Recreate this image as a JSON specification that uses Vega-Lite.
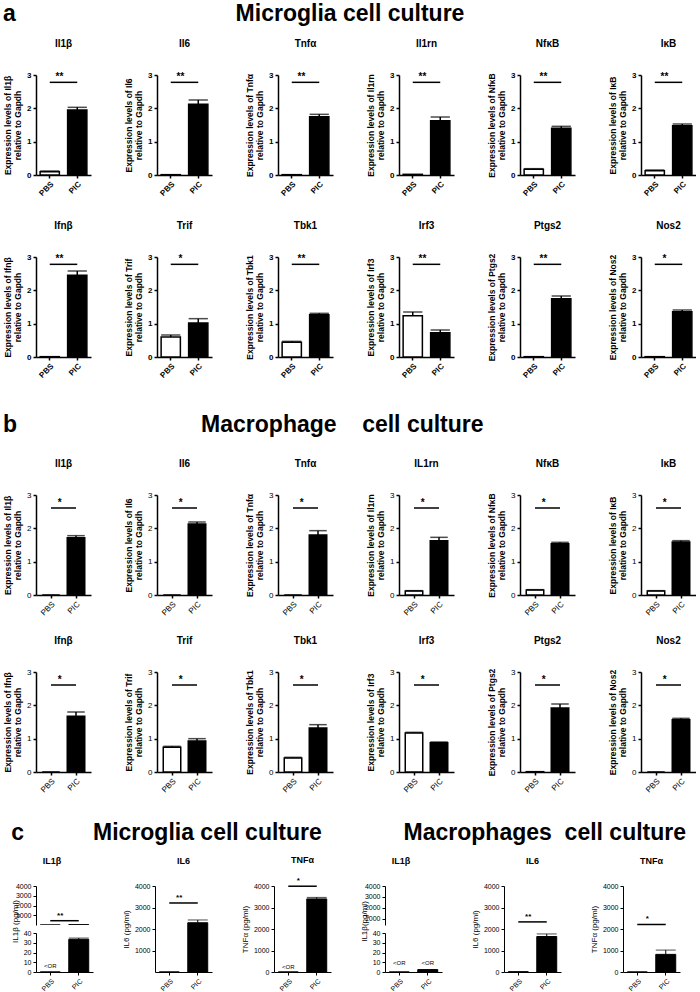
{
"$schema":"https://vega.github.io/schema/vega-lite/v6.json",
"padding":{"left":3,"top":3,"right":0,"bottom":0},
"config":{
 "font":"Liberation Sans",
 "view":{"stroke":null},
 "axis":{"grid":false,"labelOverlap":false,"domainColor":"black","domainWidth":1.5,"tickColor":"black","tickWidth":1.5,"tickSize":3,"labelColor":"black","labelFontSize":8,"labelFontWeight":"bold","labelPadding":2,"titleColor":"black","titleFontSize":8.5,"titleFontWeight":"bold","titlePadding":4},
 "axisX":{"labelAngle":-45},
 "title":{"fontSize":10,"fontWeight":"bold","color":"black","offset":22},
 "bar":{"stroke":"black","strokeWidth":1.5},
 "rule":{"color":"black","strokeWidth":1.5},
 "tick":{"color":"black","thickness":1.5,"bandSize":11},
 "text":{"fontWeight":"bold","fontSize":10,"color":"black"}
},
"spacing":34,
"vconcat":[
{"title":{"text":"a\u2003\u2003\u2003\u2003\u2003\u2003\u2003\u2003\u2003\u00a0\u00a0Microglia cell culture","fontSize":23,"anchor":"start","frame":"bounds","offset":13},
 "spacing":23,
 "vconcat":[
 {"bounds":"flush","spacing":66,"hconcat":[
  {"title":"Il1β","width":55,"height":100,"data":{"values":[{"g":"PBS","v":0.1,"hi":0.12},{"g":"PIC","v":1.95,"hi":2.03}]},"encoding":{"x":{"field":"g","type":"nominal","title":null,"scale":{"domain":["PBS","PIC"],"paddingInner":0.3,"paddingOuter":0.15}}},"layer":[{"mark":"bar","encoding":{"y":{"field":"v","type":"quantitative","scale":{"domain":[0,3]},"axis":{"values":[0,1,2,3],"format":"d","tickCount":10,"labelOverlap":false,"title":["Expression levels of Il1β","relative to Gapdh"]}},"fill":{"field":"g","type":"nominal","scale":{"domain":["PBS","PIC"],"range":["white","black"]},"legend":null}}},{"mark":"rule","encoding":{"y":{"field":"hi","type":"quantitative"},"y2":{"field":"v"}}},{"mark":"tick","encoding":{"y":{"field":"hi","type":"quantitative"}}},{"data":{"values":[{}]},"mark":"rule","encoding":{"x":{"datum":"PBS"},"x2":{"datum":"PIC"},"y":{"datum":2.78}}},{"data":{"values":[{}]},"mark":{"type":"text","dy":-5},"encoding":{"x":{"datum":"PBS","bandPosition":1},"y":{"datum":2.78},"text":{"value":"**"}}}]},
  {"title":"Il6","width":55,"height":100,"data":{"values":[{"g":"PBS","v":0.01},{"g":"PIC","v":2.12,"hi":2.25}]},"encoding":{"x":{"field":"g","type":"nominal","title":null,"scale":{"domain":["PBS","PIC"],"paddingInner":0.3,"paddingOuter":0.15}}},"layer":[{"mark":"bar","encoding":{"y":{"field":"v","type":"quantitative","scale":{"domain":[0,3]},"axis":{"values":[0,1,2,3],"format":"d","tickCount":10,"labelOverlap":false,"title":["Expression levels of Il6","relative to Gapdh"]}},"fill":{"field":"g","type":"nominal","scale":{"domain":["PBS","PIC"],"range":["white","black"]},"legend":null}}},{"mark":"rule","encoding":{"y":{"field":"hi","type":"quantitative"},"y2":{"field":"v"}}},{"mark":"tick","encoding":{"y":{"field":"hi","type":"quantitative"}}},{"data":{"values":[{}]},"mark":"rule","encoding":{"x":{"datum":"PBS"},"x2":{"datum":"PIC"},"y":{"datum":2.78}}},{"data":{"values":[{}]},"mark":{"type":"text","dy":-5},"encoding":{"x":{"datum":"PBS","bandPosition":1},"y":{"datum":2.78},"text":{"value":"**"}}}]},
  {"title":"Tnfα","width":55,"height":100,"data":{"values":[{"g":"PBS","v":0.01},{"g":"PIC","v":1.75,"hi":1.82}]},"encoding":{"x":{"field":"g","type":"nominal","title":null,"scale":{"domain":["PBS","PIC"],"paddingInner":0.3,"paddingOuter":0.15}}},"layer":[{"mark":"bar","encoding":{"y":{"field":"v","type":"quantitative","scale":{"domain":[0,3]},"axis":{"values":[0,1,2,3],"format":"d","tickCount":10,"labelOverlap":false,"title":["Expression levels of Tnfα","relative to Gapdh"]}},"fill":{"field":"g","type":"nominal","scale":{"domain":["PBS","PIC"],"range":["white","black"]},"legend":null}}},{"mark":"rule","encoding":{"y":{"field":"hi","type":"quantitative"},"y2":{"field":"v"}}},{"mark":"tick","encoding":{"y":{"field":"hi","type":"quantitative"}}},{"data":{"values":[{}]},"mark":"rule","encoding":{"x":{"datum":"PBS"},"x2":{"datum":"PIC"},"y":{"datum":2.78}}},{"data":{"values":[{}]},"mark":{"type":"text","dy":-5},"encoding":{"x":{"datum":"PBS","bandPosition":1},"y":{"datum":2.78},"text":{"value":"**"}}}]},
  {"title":"Il1rn","width":55,"height":100,"data":{"values":[{"g":"PBS","v":0.02},{"g":"PIC","v":1.63,"hi":1.74}]},"encoding":{"x":{"field":"g","type":"nominal","title":null,"scale":{"domain":["PBS","PIC"],"paddingInner":0.3,"paddingOuter":0.15}}},"layer":[{"mark":"bar","encoding":{"y":{"field":"v","type":"quantitative","scale":{"domain":[0,3]},"axis":{"values":[0,1,2,3],"format":"d","tickCount":10,"labelOverlap":false,"title":["Expression levels of Il1rn","relative to Gapdh"]}},"fill":{"field":"g","type":"nominal","scale":{"domain":["PBS","PIC"],"range":["white","black"]},"legend":null}}},{"mark":"rule","encoding":{"y":{"field":"hi","type":"quantitative"},"y2":{"field":"v"}}},{"mark":"tick","encoding":{"y":{"field":"hi","type":"quantitative"}}},{"data":{"values":[{}]},"mark":"rule","encoding":{"x":{"datum":"PBS"},"x2":{"datum":"PIC"},"y":{"datum":2.78}}},{"data":{"values":[{}]},"mark":{"type":"text","dy":-5},"encoding":{"x":{"datum":"PBS","bandPosition":1},"y":{"datum":2.78},"text":{"value":"**"}}}]},
  {"title":"NfκB","width":55,"height":100,"data":{"values":[{"g":"PBS","v":0.17,"hi":0.19},{"g":"PIC","v":1.4,"hi":1.46}]},"encoding":{"x":{"field":"g","type":"nominal","title":null,"scale":{"domain":["PBS","PIC"],"paddingInner":0.3,"paddingOuter":0.15}}},"layer":[{"mark":"bar","encoding":{"y":{"field":"v","type":"quantitative","scale":{"domain":[0,3]},"axis":{"values":[0,1,2,3],"format":"d","tickCount":10,"labelOverlap":false,"title":["Expression levels of NfκB","relative to Gapdh"]}},"fill":{"field":"g","type":"nominal","scale":{"domain":["PBS","PIC"],"range":["white","black"]},"legend":null}}},{"mark":"rule","encoding":{"y":{"field":"hi","type":"quantitative"},"y2":{"field":"v"}}},{"mark":"tick","encoding":{"y":{"field":"hi","type":"quantitative"}}},{"data":{"values":[{}]},"mark":"rule","encoding":{"x":{"datum":"PBS"},"x2":{"datum":"PIC"},"y":{"datum":2.78}}},{"data":{"values":[{}]},"mark":{"type":"text","dy":-5},"encoding":{"x":{"datum":"PBS","bandPosition":1},"y":{"datum":2.78},"text":{"value":"**"}}}]},
  {"title":"IκB","width":55,"height":100,"data":{"values":[{"g":"PBS","v":0.13,"hi":0.15},{"g":"PIC","v":1.48,"hi":1.53}]},"encoding":{"x":{"field":"g","type":"nominal","title":null,"scale":{"domain":["PBS","PIC"],"paddingInner":0.3,"paddingOuter":0.15}}},"layer":[{"mark":"bar","encoding":{"y":{"field":"v","type":"quantitative","scale":{"domain":[0,3]},"axis":{"values":[0,1,2,3],"format":"d","tickCount":10,"labelOverlap":false,"title":["Expression levels of IκB","relative to Gapdh"]}},"fill":{"field":"g","type":"nominal","scale":{"domain":["PBS","PIC"],"range":["white","black"]},"legend":null}}},{"mark":"rule","encoding":{"y":{"field":"hi","type":"quantitative"},"y2":{"field":"v"}}},{"mark":"tick","encoding":{"y":{"field":"hi","type":"quantitative"}}},{"data":{"values":[{}]},"mark":"rule","encoding":{"x":{"datum":"PBS"},"x2":{"datum":"PIC"},"y":{"datum":2.78}}},{"data":{"values":[{}]},"mark":{"type":"text","dy":-5},"encoding":{"x":{"datum":"PBS","bandPosition":1},"y":{"datum":2.78},"text":{"value":"**"}}}]}
 ]},
 {"bounds":"flush","spacing":66,"hconcat":[
  {"title":"Ifnβ","width":55,"height":100,"data":{"values":[{"g":"PBS","v":0.01},{"g":"PIC","v":2.45,"hi":2.58}]},"encoding":{"x":{"field":"g","type":"nominal","title":null,"scale":{"domain":["PBS","PIC"],"paddingInner":0.3,"paddingOuter":0.15}}},"layer":[{"mark":"bar","encoding":{"y":{"field":"v","type":"quantitative","scale":{"domain":[0,3]},"axis":{"values":[0,1,2,3],"format":"d","tickCount":10,"labelOverlap":false,"title":["Expression levels of Ifnβ","relative to Gapdh"]}},"fill":{"field":"g","type":"nominal","scale":{"domain":["PBS","PIC"],"range":["white","black"]},"legend":null}}},{"mark":"rule","encoding":{"y":{"field":"hi","type":"quantitative"},"y2":{"field":"v"}}},{"mark":"tick","encoding":{"y":{"field":"hi","type":"quantitative"}}},{"data":{"values":[{}]},"mark":"rule","encoding":{"x":{"datum":"PBS"},"x2":{"datum":"PIC"},"y":{"datum":2.78}}},{"data":{"values":[{}]},"mark":{"type":"text","dy":-5},"encoding":{"x":{"datum":"PBS","bandPosition":1},"y":{"datum":2.78},"text":{"value":"**"}}}]},
  {"title":"Trif","width":55,"height":100,"data":{"values":[{"g":"PBS","v":0.6,"hi":0.66},{"g":"PIC","v":1.02,"hi":1.15}]},"encoding":{"x":{"field":"g","type":"nominal","title":null,"scale":{"domain":["PBS","PIC"],"paddingInner":0.3,"paddingOuter":0.15}}},"layer":[{"mark":"bar","encoding":{"y":{"field":"v","type":"quantitative","scale":{"domain":[0,3]},"axis":{"values":[0,1,2,3],"format":"d","tickCount":10,"labelOverlap":false,"title":["Expression levels of Trif","relative to Gapdh"]}},"fill":{"field":"g","type":"nominal","scale":{"domain":["PBS","PIC"],"range":["white","black"]},"legend":null}}},{"mark":"rule","encoding":{"y":{"field":"hi","type":"quantitative"},"y2":{"field":"v"}}},{"mark":"tick","encoding":{"y":{"field":"hi","type":"quantitative"}}},{"data":{"values":[{}]},"mark":"rule","encoding":{"x":{"datum":"PBS"},"x2":{"datum":"PIC"},"y":{"datum":2.78}}},{"data":{"values":[{}]},"mark":{"type":"text","dy":-5},"encoding":{"x":{"datum":"PBS","bandPosition":1},"y":{"datum":2.78},"text":{"value":"*"}}}]},
  {"title":"Tbk1","width":55,"height":100,"data":{"values":[{"g":"PBS","v":0.44,"hi":0.47},{"g":"PIC","v":1.27,"hi":1.31}]},"encoding":{"x":{"field":"g","type":"nominal","title":null,"scale":{"domain":["PBS","PIC"],"paddingInner":0.3,"paddingOuter":0.15}}},"layer":[{"mark":"bar","encoding":{"y":{"field":"v","type":"quantitative","scale":{"domain":[0,3]},"axis":{"values":[0,1,2,3],"format":"d","tickCount":10,"labelOverlap":false,"title":["Expression levels of Tbk1","relative to Gapdh"]}},"fill":{"field":"g","type":"nominal","scale":{"domain":["PBS","PIC"],"range":["white","black"]},"legend":null}}},{"mark":"rule","encoding":{"y":{"field":"hi","type":"quantitative"},"y2":{"field":"v"}}},{"mark":"tick","encoding":{"y":{"field":"hi","type":"quantitative"}}},{"data":{"values":[{}]},"mark":"rule","encoding":{"x":{"datum":"PBS"},"x2":{"datum":"PIC"},"y":{"datum":2.78}}},{"data":{"values":[{}]},"mark":{"type":"text","dy":-5},"encoding":{"x":{"datum":"PBS","bandPosition":1},"y":{"datum":2.78},"text":{"value":"**"}}}]},
  {"title":"Irf3","width":55,"height":100,"data":{"values":[{"g":"PBS","v":1.24,"hi":1.35},{"g":"PIC","v":0.73,"hi":0.81}]},"encoding":{"x":{"field":"g","type":"nominal","title":null,"scale":{"domain":["PBS","PIC"],"paddingInner":0.3,"paddingOuter":0.15}}},"layer":[{"mark":"bar","encoding":{"y":{"field":"v","type":"quantitative","scale":{"domain":[0,3]},"axis":{"values":[0,1,2,3],"format":"d","tickCount":10,"labelOverlap":false,"title":["Expression levels of Irf3","relative to Gapdh"]}},"fill":{"field":"g","type":"nominal","scale":{"domain":["PBS","PIC"],"range":["white","black"]},"legend":null}}},{"mark":"rule","encoding":{"y":{"field":"hi","type":"quantitative"},"y2":{"field":"v"}}},{"mark":"tick","encoding":{"y":{"field":"hi","type":"quantitative"}}},{"data":{"values":[{}]},"mark":"rule","encoding":{"x":{"datum":"PBS"},"x2":{"datum":"PIC"},"y":{"datum":2.78}}},{"data":{"values":[{}]},"mark":{"type":"text","dy":-5},"encoding":{"x":{"datum":"PBS","bandPosition":1},"y":{"datum":2.78},"text":{"value":"**"}}}]},
  {"title":"Ptgs2","width":55,"height":100,"data":{"values":[{"g":"PBS","v":0.01},{"g":"PIC","v":1.75,"hi":1.83}]},"encoding":{"x":{"field":"g","type":"nominal","title":null,"scale":{"domain":["PBS","PIC"],"paddingInner":0.3,"paddingOuter":0.15}}},"layer":[{"mark":"bar","encoding":{"y":{"field":"v","type":"quantitative","scale":{"domain":[0,3]},"axis":{"values":[0,1,2,3],"format":"d","tickCount":10,"labelOverlap":false,"title":["Expression levels of Ptgs2","relative to Gapdh"]}},"fill":{"field":"g","type":"nominal","scale":{"domain":["PBS","PIC"],"range":["white","black"]},"legend":null}}},{"mark":"rule","encoding":{"y":{"field":"hi","type":"quantitative"},"y2":{"field":"v"}}},{"mark":"tick","encoding":{"y":{"field":"hi","type":"quantitative"}}},{"data":{"values":[{}]},"mark":"rule","encoding":{"x":{"datum":"PBS"},"x2":{"datum":"PIC"},"y":{"datum":2.78}}},{"data":{"values":[{}]},"mark":{"type":"text","dy":-5},"encoding":{"x":{"datum":"PBS","bandPosition":1},"y":{"datum":2.78},"text":{"value":"**"}}}]},
  {"title":"Nos2","width":55,"height":100,"data":{"values":[{"g":"PBS","v":0.01},{"g":"PIC","v":1.36,"hi":1.41}]},"encoding":{"x":{"field":"g","type":"nominal","title":null,"scale":{"domain":["PBS","PIC"],"paddingInner":0.3,"paddingOuter":0.15}}},"layer":[{"mark":"bar","encoding":{"y":{"field":"v","type":"quantitative","scale":{"domain":[0,3]},"axis":{"values":[0,1,2,3],"format":"d","tickCount":10,"labelOverlap":false,"title":["Expression levels of Nos2","relative to Gapdh"]}},"fill":{"field":"g","type":"nominal","scale":{"domain":["PBS","PIC"],"range":["white","black"]},"legend":null}}},{"mark":"rule","encoding":{"y":{"field":"hi","type":"quantitative"},"y2":{"field":"v"}}},{"mark":"tick","encoding":{"y":{"field":"hi","type":"quantitative"}}},{"data":{"values":[{}]},"mark":"rule","encoding":{"x":{"datum":"PBS"},"x2":{"datum":"PIC"},"y":{"datum":2.78}}},{"data":{"values":[{}]},"mark":{"type":"text","dy":-5},"encoding":{"x":{"datum":"PBS","bandPosition":1},"y":{"datum":2.78},"text":{"value":"*"}}}]}
 ]}
 ]},
{"spacing":28,"vconcat":[
{"title":{"text":"b\u2003\u2003\u2003\u2003\u2003\u2003\u2003\u2003Macrophage\u00a0\u00a0\u00a0\u00a0cell culture","fontSize":23,"anchor":"start","frame":"bounds","offset":22},
 "spacing":19,
 "vconcat":[
 {"bounds":"flush","spacing":66,"hconcat":[
  {"title":"Il1β","width":55,"height":100,"data":{"values":[{"g":"PBS","v":0},{"g":"PIC","v":1.72,"hi":1.78}]},"encoding":{"x":{"field":"g","type":"nominal","title":null,"scale":{"domain":["PBS","PIC"],"paddingInner":0.3,"paddingOuter":0.25},"axis":{"labelFontWeight":"normal"}}},"layer":[{"mark":"bar","encoding":{"y":{"field":"v","type":"quantitative","scale":{"domain":[0,3]},"axis":{"values":[0,1,2,3],"format":"d","tickCount":10,"labelOverlap":false,"labelFontWeight":"normal","title":["Expression levels of Il1β","relative to Gapdh"]}},"fill":{"field":"g","type":"nominal","scale":{"domain":["PBS","PIC"],"range":["white","black"]},"legend":null}}},{"mark":"rule","encoding":{"y":{"field":"hi","type":"quantitative"},"y2":{"field":"v"}}},{"mark":"tick","encoding":{"y":{"field":"hi","type":"quantitative"}}},{"data":{"values":[{}]},"mark":"rule","encoding":{"x":{"datum":"PBS"},"x2":{"datum":"PIC"},"y":{"datum":2.61}}},{"data":{"values":[{}]},"mark":{"type":"text","dy":-5},"encoding":{"x":{"datum":"PBS","bandPosition":1},"y":{"datum":2.61},"text":{"value":"*"}}}]},
  {"title":"Il6","width":55,"height":100,"data":{"values":[{"g":"PBS","v":0},{"g":"PIC","v":2.13,"hi":2.19}]},"encoding":{"x":{"field":"g","type":"nominal","title":null,"scale":{"domain":["PBS","PIC"],"paddingInner":0.3,"paddingOuter":0.25},"axis":{"labelFontWeight":"normal"}}},"layer":[{"mark":"bar","encoding":{"y":{"field":"v","type":"quantitative","scale":{"domain":[0,3]},"axis":{"values":[0,1,2,3],"format":"d","tickCount":10,"labelOverlap":false,"labelFontWeight":"normal","title":["Expression levels of Il6","relative to Gapdh"]}},"fill":{"field":"g","type":"nominal","scale":{"domain":["PBS","PIC"],"range":["white","black"]},"legend":null}}},{"mark":"rule","encoding":{"y":{"field":"hi","type":"quantitative"},"y2":{"field":"v"}}},{"mark":"tick","encoding":{"y":{"field":"hi","type":"quantitative"}}},{"data":{"values":[{}]},"mark":"rule","encoding":{"x":{"datum":"PBS"},"x2":{"datum":"PIC"},"y":{"datum":2.61}}},{"data":{"values":[{}]},"mark":{"type":"text","dy":-5},"encoding":{"x":{"datum":"PBS","bandPosition":1},"y":{"datum":2.61},"text":{"value":"*"}}}]},
  {"title":"Tnfα","width":55,"height":100,"data":{"values":[{"g":"PBS","v":0},{"g":"PIC","v":1.8,"hi":1.93}]},"encoding":{"x":{"field":"g","type":"nominal","title":null,"scale":{"domain":["PBS","PIC"],"paddingInner":0.3,"paddingOuter":0.25},"axis":{"labelFontWeight":"normal"}}},"layer":[{"mark":"bar","encoding":{"y":{"field":"v","type":"quantitative","scale":{"domain":[0,3]},"axis":{"values":[0,1,2,3],"format":"d","tickCount":10,"labelOverlap":false,"labelFontWeight":"normal","title":["Expression levels of Tnfα","relative to Gapdh"]}},"fill":{"field":"g","type":"nominal","scale":{"domain":["PBS","PIC"],"range":["white","black"]},"legend":null}}},{"mark":"rule","encoding":{"y":{"field":"hi","type":"quantitative"},"y2":{"field":"v"}}},{"mark":"tick","encoding":{"y":{"field":"hi","type":"quantitative"}}},{"data":{"values":[{}]},"mark":"rule","encoding":{"x":{"datum":"PBS"},"x2":{"datum":"PIC"},"y":{"datum":2.61}}},{"data":{"values":[{}]},"mark":{"type":"text","dy":-5},"encoding":{"x":{"datum":"PBS","bandPosition":1},"y":{"datum":2.61},"text":{"value":"*"}}}]},
  {"title":"IL1rn","width":55,"height":100,"data":{"values":[{"g":"PBS","v":0.12,"hi":0.13},{"g":"PIC","v":1.63,"hi":1.73}]},"encoding":{"x":{"field":"g","type":"nominal","title":null,"scale":{"domain":["PBS","PIC"],"paddingInner":0.3,"paddingOuter":0.25},"axis":{"labelFontWeight":"normal"}}},"layer":[{"mark":"bar","encoding":{"y":{"field":"v","type":"quantitative","scale":{"domain":[0,3]},"axis":{"values":[0,1,2,3],"format":"d","tickCount":10,"labelOverlap":false,"labelFontWeight":"normal","title":["Expression levels of Il1rn","relative to Gapdh"]}},"fill":{"field":"g","type":"nominal","scale":{"domain":["PBS","PIC"],"range":["white","black"]},"legend":null}}},{"mark":"rule","encoding":{"y":{"field":"hi","type":"quantitative"},"y2":{"field":"v"}}},{"mark":"tick","encoding":{"y":{"field":"hi","type":"quantitative"}}},{"data":{"values":[{}]},"mark":"rule","encoding":{"x":{"datum":"PBS"},"x2":{"datum":"PIC"},"y":{"datum":2.61}}},{"data":{"values":[{}]},"mark":{"type":"text","dy":-5},"encoding":{"x":{"datum":"PBS","bandPosition":1},"y":{"datum":2.61},"text":{"value":"*"}}}]},
  {"title":"NfκB","width":55,"height":100,"data":{"values":[{"g":"PBS","v":0.15,"hi":0.16},{"g":"PIC","v":1.54,"hi":1.58}]},"encoding":{"x":{"field":"g","type":"nominal","title":null,"scale":{"domain":["PBS","PIC"],"paddingInner":0.3,"paddingOuter":0.25},"axis":{"labelFontWeight":"normal"}}},"layer":[{"mark":"bar","encoding":{"y":{"field":"v","type":"quantitative","scale":{"domain":[0,3]},"axis":{"values":[0,1,2,3],"format":"d","tickCount":10,"labelOverlap":false,"labelFontWeight":"normal","title":["Expression levels of NfκB","relative to Gapdh"]}},"fill":{"field":"g","type":"nominal","scale":{"domain":["PBS","PIC"],"range":["white","black"]},"legend":null}}},{"mark":"rule","encoding":{"y":{"field":"hi","type":"quantitative"},"y2":{"field":"v"}}},{"mark":"tick","encoding":{"y":{"field":"hi","type":"quantitative"}}},{"data":{"values":[{}]},"mark":"rule","encoding":{"x":{"datum":"PBS"},"x2":{"datum":"PIC"},"y":{"datum":2.61}}},{"data":{"values":[{}]},"mark":{"type":"text","dy":-5},"encoding":{"x":{"datum":"PBS","bandPosition":1},"y":{"datum":2.61},"text":{"value":"*"}}}]},
  {"title":"IκB","width":55,"height":100,"data":{"values":[{"g":"PBS","v":0.12,"hi":0.13},{"g":"PIC","v":1.59,"hi":1.63}]},"encoding":{"x":{"field":"g","type":"nominal","title":null,"scale":{"domain":["PBS","PIC"],"paddingInner":0.3,"paddingOuter":0.25},"axis":{"labelFontWeight":"normal"}}},"layer":[{"mark":"bar","encoding":{"y":{"field":"v","type":"quantitative","scale":{"domain":[0,3]},"axis":{"values":[0,1,2,3],"format":"d","tickCount":10,"labelOverlap":false,"labelFontWeight":"normal","title":["Expression levels of IκB","relative to Gapdh"]}},"fill":{"field":"g","type":"nominal","scale":{"domain":["PBS","PIC"],"range":["white","black"]},"legend":null}}},{"mark":"rule","encoding":{"y":{"field":"hi","type":"quantitative"},"y2":{"field":"v"}}},{"mark":"tick","encoding":{"y":{"field":"hi","type":"quantitative"}}},{"data":{"values":[{}]},"mark":"rule","encoding":{"x":{"datum":"PBS"},"x2":{"datum":"PIC"},"y":{"datum":2.61}}},{"data":{"values":[{}]},"mark":{"type":"text","dy":-5},"encoding":{"x":{"datum":"PBS","bandPosition":1},"y":{"datum":2.61},"text":{"value":"*"}}}]}
 ]},
 {"bounds":"flush","spacing":66,"hconcat":[
  {"title":"Ifnβ","width":55,"height":100,"data":{"values":[{"g":"PBS","v":0},{"g":"PIC","v":1.67,"hi":1.8}]},"encoding":{"x":{"field":"g","type":"nominal","title":null,"scale":{"domain":["PBS","PIC"],"paddingInner":0.3,"paddingOuter":0.25},"axis":{"labelFontWeight":"normal"}}},"layer":[{"mark":"bar","encoding":{"y":{"field":"v","type":"quantitative","scale":{"domain":[0,3]},"axis":{"values":[0,1,2,3],"format":"d","tickCount":10,"labelOverlap":false,"labelFontWeight":"normal","title":["Expression levels of Ifnβ","relative to Gapdh"]}},"fill":{"field":"g","type":"nominal","scale":{"domain":["PBS","PIC"],"range":["white","black"]},"legend":null}}},{"mark":"rule","encoding":{"y":{"field":"hi","type":"quantitative"},"y2":{"field":"v"}}},{"mark":"tick","encoding":{"y":{"field":"hi","type":"quantitative"}}},{"data":{"values":[{}]},"mark":"rule","encoding":{"x":{"datum":"PBS"},"x2":{"datum":"PIC"},"y":{"datum":2.61}}},{"data":{"values":[{}]},"mark":{"type":"text","dy":-5},"encoding":{"x":{"datum":"PBS","bandPosition":1},"y":{"datum":2.61},"text":{"value":"*"}}}]},
  {"title":"Trif","width":55,"height":100,"data":{"values":[{"g":"PBS","v":0.74,"hi":0.77},{"g":"PIC","v":0.93,"hi":1.0}]},"encoding":{"x":{"field":"g","type":"nominal","title":null,"scale":{"domain":["PBS","PIC"],"paddingInner":0.3,"paddingOuter":0.25},"axis":{"labelFontWeight":"normal"}}},"layer":[{"mark":"bar","encoding":{"y":{"field":"v","type":"quantitative","scale":{"domain":[0,3]},"axis":{"values":[0,1,2,3],"format":"d","tickCount":10,"labelOverlap":false,"labelFontWeight":"normal","title":["Expression levels of Trif","relative to Gapdh"]}},"fill":{"field":"g","type":"nominal","scale":{"domain":["PBS","PIC"],"range":["white","black"]},"legend":null}}},{"mark":"rule","encoding":{"y":{"field":"hi","type":"quantitative"},"y2":{"field":"v"}}},{"mark":"tick","encoding":{"y":{"field":"hi","type":"quantitative"}}},{"data":{"values":[{}]},"mark":"rule","encoding":{"x":{"datum":"PBS"},"x2":{"datum":"PIC"},"y":{"datum":2.61}}},{"data":{"values":[{}]},"mark":{"type":"text","dy":-5},"encoding":{"x":{"datum":"PBS","bandPosition":1},"y":{"datum":2.61},"text":{"value":"*"}}}]},
  {"title":"Tbk1","width":55,"height":100,"data":{"values":[{"g":"PBS","v":0.42,"hi":0.44},{"g":"PIC","v":1.32,"hi":1.42}]},"encoding":{"x":{"field":"g","type":"nominal","title":null,"scale":{"domain":["PBS","PIC"],"paddingInner":0.3,"paddingOuter":0.25},"axis":{"labelFontWeight":"normal"}}},"layer":[{"mark":"bar","encoding":{"y":{"field":"v","type":"quantitative","scale":{"domain":[0,3]},"axis":{"values":[0,1,2,3],"format":"d","tickCount":10,"labelOverlap":false,"labelFontWeight":"normal","title":["Expression levels of Tbk1","relative to Gapdh"]}},"fill":{"field":"g","type":"nominal","scale":{"domain":["PBS","PIC"],"range":["white","black"]},"legend":null}}},{"mark":"rule","encoding":{"y":{"field":"hi","type":"quantitative"},"y2":{"field":"v"}}},{"mark":"tick","encoding":{"y":{"field":"hi","type":"quantitative"}}},{"data":{"values":[{}]},"mark":"rule","encoding":{"x":{"datum":"PBS"},"x2":{"datum":"PIC"},"y":{"datum":2.61}}},{"data":{"values":[{}]},"mark":{"type":"text","dy":-5},"encoding":{"x":{"datum":"PBS","bandPosition":1},"y":{"datum":2.61},"text":{"value":"*"}}}]},
  {"title":"Irf3","width":55,"height":100,"data":{"values":[{"g":"PBS","v":1.17,"hi":1.19},{"g":"PIC","v":0.88,"hi":0.9}]},"encoding":{"x":{"field":"g","type":"nominal","title":null,"scale":{"domain":["PBS","PIC"],"paddingInner":0.3,"paddingOuter":0.25},"axis":{"labelFontWeight":"normal"}}},"layer":[{"mark":"bar","encoding":{"y":{"field":"v","type":"quantitative","scale":{"domain":[0,3]},"axis":{"values":[0,1,2,3],"format":"d","tickCount":10,"labelOverlap":false,"labelFontWeight":"normal","title":["Expression levels of Irf3","relative to Gapdh"]}},"fill":{"field":"g","type":"nominal","scale":{"domain":["PBS","PIC"],"range":["white","black"]},"legend":null}}},{"mark":"rule","encoding":{"y":{"field":"hi","type":"quantitative"},"y2":{"field":"v"}}},{"mark":"tick","encoding":{"y":{"field":"hi","type":"quantitative"}}},{"data":{"values":[{}]},"mark":"rule","encoding":{"x":{"datum":"PBS"},"x2":{"datum":"PIC"},"y":{"datum":2.61}}},{"data":{"values":[{}]},"mark":{"type":"text","dy":-5},"encoding":{"x":{"datum":"PBS","bandPosition":1},"y":{"datum":2.61},"text":{"value":"*"}}}]},
  {"title":"Ptgs2","width":55,"height":100,"data":{"values":[{"g":"PBS","v":0.01},{"g":"PIC","v":1.92,"hi":2.04}]},"encoding":{"x":{"field":"g","type":"nominal","title":null,"scale":{"domain":["PBS","PIC"],"paddingInner":0.3,"paddingOuter":0.25},"axis":{"labelFontWeight":"normal"}}},"layer":[{"mark":"bar","encoding":{"y":{"field":"v","type":"quantitative","scale":{"domain":[0,3]},"axis":{"values":[0,1,2,3],"format":"d","tickCount":10,"labelOverlap":false,"labelFontWeight":"normal","title":["Expression levels of Ptgs2","relative to Gapdh"]}},"fill":{"field":"g","type":"nominal","scale":{"domain":["PBS","PIC"],"range":["white","black"]},"legend":null}}},{"mark":"rule","encoding":{"y":{"field":"hi","type":"quantitative"},"y2":{"field":"v"}}},{"mark":"tick","encoding":{"y":{"field":"hi","type":"quantitative"}}},{"data":{"values":[{}]},"mark":"rule","encoding":{"x":{"datum":"PBS"},"x2":{"datum":"PIC"},"y":{"datum":2.61}}},{"data":{"values":[{}]},"mark":{"type":"text","dy":-5},"encoding":{"x":{"datum":"PBS","bandPosition":1},"y":{"datum":2.61},"text":{"value":"*"}}}]},
  {"title":"Nos2","width":55,"height":100,"data":{"values":[{"g":"PBS","v":0},{"g":"PIC","v":1.57,"hi":1.61}]},"encoding":{"x":{"field":"g","type":"nominal","title":null,"scale":{"domain":["PBS","PIC"],"paddingInner":0.3,"paddingOuter":0.25},"axis":{"labelFontWeight":"normal"}}},"layer":[{"mark":"bar","encoding":{"y":{"field":"v","type":"quantitative","scale":{"domain":[0,3]},"axis":{"values":[0,1,2,3],"format":"d","tickCount":10,"labelOverlap":false,"labelFontWeight":"normal","title":["Expression levels of Nos2","relative to Gapdh"]}},"fill":{"field":"g","type":"nominal","scale":{"domain":["PBS","PIC"],"range":["white","black"]},"legend":null}}},{"mark":"rule","encoding":{"y":{"field":"hi","type":"quantitative"},"y2":{"field":"v"}}},{"mark":"tick","encoding":{"y":{"field":"hi","type":"quantitative"}}},{"data":{"values":[{}]},"mark":"rule","encoding":{"x":{"datum":"PBS"},"x2":{"datum":"PIC"},"y":{"datum":2.61}}},{"data":{"values":[{}]},"mark":{"type":"text","dy":-5},"encoding":{"x":{"datum":"PBS","bandPosition":1},"y":{"datum":2.61},"text":{"value":"*"}}}]}
 ]}
 ]},
{"title":{"text":"c\u2003\u2003\u2003Microglia cell culture\u2003\u2003\u2003\u00a0\u00a0Macrophages\u00a0\u00a0cell culture","fontSize":23,"anchor":"start","frame":"bounds","offset":11},
 "spacing":29,"hconcat":[
  {"title":{"text":"IL1β","fontSize":9,"anchor":"middle","offset":16},"bounds":"flush","spacing":8,"vconcat":[
    {"width":57,"height":39,"data":{"values":[{"g":"PBS","v":0},{"g":"PIC","v":33.5}]},"encoding":{"x":{"field":"g","type":"nominal","axis":null,"scale":{"domain":["PBS","PIC"],"paddingInner":0.3,"paddingOuter":0.15}}},"layer":[{"mark":{"type":"bar","clip":true,"strokeWidth":1},"encoding":{"y":{"field":"v","type":"quantitative","scale":{"domain":[420,4000]},"axis":{"values":[1000,2000,3000,4000],"tickCount":10,"labelOverlap":false,"format":"d","title":null,"labelFontWeight":"normal","labelFontSize":7,"domainWidth":1,"tickWidth":1}},"fill":{"field":"g","type":"nominal","scale":{"domain":["PBS","PIC"],"range":["white","black"]},"legend":null}}},{"data":{"values":[{}]},"mark":"rule","encoding":{"x":{"datum":"PBS"},"x2":{"datum":"PIC"},"y":{"datum":440}}},{"data":{"values":[{}]},"mark":{"type":"text","dy":-5,"fontSize":8},"encoding":{"x":{"datum":"PBS","bandPosition":1},"y":{"datum":440},"text":{"value":"**"}}}]},
    {"width":57,"height":39,"data":{"values":[{"g":"PBS","v":0,"lab":"<OR"},{"g":"PIC","v":33.5,"hi":34.8,"lab":""}]},"encoding":{"x":{"field":"g","type":"nominal","title":null,"scale":{"domain":["PBS","PIC"],"paddingInner":0.3,"paddingOuter":0.15},"axis":{"labelFontWeight":"normal","labelFontSize":7,"domainWidth":1,"tickWidth":1}}},"layer":[{"mark":{"type":"bar","strokeWidth":1},"encoding":{"y":{"field":"v","type":"quantitative","scale":{"domain":[0,40]},"axis":{"values":[0,10,20,30,40],"tickCount":10,"labelOverlap":false,"format":"d","title":"IL1β (pg/ml)","titleY":-12,"titleFontWeight":"normal","titleFontSize":8,"labelFontWeight":"normal","labelFontSize":7,"domainWidth":1,"tickWidth":1}},"fill":{"field":"g","type":"nominal","scale":{"domain":["PBS","PIC"],"range":["white","black"]},"legend":null}}},{"mark":{"type":"rule","strokeWidth":1},"encoding":{"y":{"field":"hi","type":"quantitative"},"y2":{"field":"v"}}},{"mark":{"type":"tick","thickness":1},"encoding":{"y":{"field":"hi","type":"quantitative"}}},{"mark":{"type":"text","dy":-6,"fontSize":6,"fontWeight":"normal"},"encoding":{"y":{"datum":0},"text":{"field":"lab"}}}]}
  ]},
  {"title":{"text":"IL6","fontSize":9,"offset":16},"width":57,"height":86,"data":{"values":[{"g":"PBS","v":0},{"g":"PIC","v":2290,"hi":2420}]},"encoding":{"x":{"field":"g","type":"nominal","title":null,"scale":{"domain":["PBS","PIC"],"paddingInner":0.3,"paddingOuter":0.15},"axis":{"labelFontWeight":"normal","labelFontSize":7,"domainWidth":1,"tickWidth":1}}},"layer":[{"mark":{"type":"bar","clip":true,"strokeWidth":1},"encoding":{"y":{"field":"v","type":"quantitative","scale":{"domain":[420,4000]},"axis":{"values":[1000,2000,3000,4000],"tickCount":10,"labelOverlap":false,"format":"d","title":"IL6 (pg/ml)","titleFontWeight":"normal","titleFontSize":8,"labelFontWeight":"normal","labelFontSize":7,"domainWidth":1,"tickWidth":1}},"fill":{"field":"g","type":"nominal","scale":{"domain":["PBS","PIC"],"range":["white","black"]},"legend":null}}},{"mark":{"type":"rule","strokeWidth":1},"encoding":{"y":{"field":"hi","type":"quantitative"},"y2":{"field":"v"}}},{"mark":{"type":"tick","thickness":1},"encoding":{"y":{"field":"hi","type":"quantitative"}}},{"data":{"values":[{}]},"mark":"rule","encoding":{"x":{"datum":"PBS"},"x2":{"datum":"PIC"},"y":{"datum":3210}}},{"data":{"values":[{}]},"mark":{"type":"text","dy":-5,"fontSize":8},"encoding":{"x":{"datum":"PBS","bandPosition":1},"y":{"datum":3210},"text":{"value":"**"}}}]},
  {"title":{"text":"TNFα","fontSize":9,"offset":12},"width":57,"height":86,"data":{"values":[{"g":"PBS","v":0,"lab":"<OR"},{"g":"PIC","v":3400,"hi":3470,"lab":""}]},"encoding":{"x":{"field":"g","type":"nominal","title":null,"scale":{"domain":["PBS","PIC"],"paddingInner":0.3,"paddingOuter":0.15},"axis":{"labelFontWeight":"normal","labelFontSize":7,"domainWidth":1,"tickWidth":1}}},"layer":[{"mark":{"type":"bar","strokeWidth":1},"encoding":{"y":{"field":"v","type":"quantitative","scale":{"domain":[0,4000]},"axis":{"values":[0,1000,2000,3000,4000],"tickCount":10,"labelOverlap":false,"format":"d","title":"TNFα (pg/ml)","titleFontWeight":"normal","titleFontSize":8,"labelFontWeight":"normal","labelFontSize":7,"domainWidth":1,"tickWidth":1}},"fill":{"field":"g","type":"nominal","scale":{"domain":["PBS","PIC"],"range":["white","black"]},"legend":null}}},{"mark":{"type":"rule","strokeWidth":1},"encoding":{"y":{"field":"hi","type":"quantitative"},"y2":{"field":"v"}}},{"mark":{"type":"tick","thickness":1},"encoding":{"y":{"field":"hi","type":"quantitative"}}},{"mark":{"type":"text","dy":-5,"fontSize":6,"fontWeight":"normal"},"encoding":{"y":{"datum":0},"text":{"field":"lab"}}},{"data":{"values":[{}]},"mark":"rule","encoding":{"x":{"datum":"PBS"},"x2":{"datum":"PIC"},"y":{"datum":3990}}},{"data":{"values":[{}]},"mark":{"type":"text","dy":-5,"fontSize":8},"encoding":{"x":{"datum":"PBS","bandPosition":1},"y":{"datum":3990},"text":{"value":"*"}}}]},
  {"title":{"text":"IL1β","fontSize":9,"anchor":"middle","offset":16},"bounds":"flush","spacing":8,"vconcat":[
    {"width":57,"height":39,"data":{"values":[{"g":"PBS","v":0},{"g":"PIC","v":2.5}]},"encoding":{"x":{"field":"g","type":"nominal","axis":null,"scale":{"domain":["PBS","PIC"],"paddingInner":0.3,"paddingOuter":0.15}}},"layer":[{"mark":{"type":"bar","clip":true,"strokeWidth":1},"encoding":{"y":{"field":"v","type":"quantitative","scale":{"domain":[420,4000]},"axis":{"values":[1000,2000,3000,4000],"tickCount":10,"labelOverlap":false,"format":"d","title":null,"labelFontWeight":"normal","labelFontSize":7,"domainWidth":1,"tickWidth":1}},"fill":{"field":"g","type":"nominal","scale":{"domain":["PBS","PIC"],"range":["white","black"]},"legend":null}}}]},
    {"width":57,"height":39,"data":{"values":[{"g":"PBS","v":0,"lab":"<OR"},{"g":"PIC","v":2.5,"lab":"<OR"}]},"encoding":{"x":{"field":"g","type":"nominal","title":null,"scale":{"domain":["PBS","PIC"],"paddingInner":0.3,"paddingOuter":0.15},"axis":{"labelFontWeight":"normal","labelFontSize":7,"domainWidth":1,"tickWidth":1}}},"layer":[{"mark":{"type":"bar","strokeWidth":1},"encoding":{"y":{"field":"v","type":"quantitative","scale":{"domain":[0,40]},"axis":{"values":[0,10,20,30,40],"tickCount":10,"labelOverlap":false,"format":"d","title":"IL1β(pg/ml)","titleY":-12,"titleFontWeight":"normal","titleFontSize":8,"labelFontWeight":"normal","labelFontSize":7,"domainWidth":1,"tickWidth":1}},"fill":{"field":"g","type":"nominal","scale":{"domain":["PBS","PIC"],"range":["white","black"]},"legend":null}}},{"mark":{"type":"text","dy":-9,"fontSize":6,"fontWeight":"normal"},"encoding":{"y":{"datum":0},"text":{"field":"lab"}}}]}
  ]},
  {"title":{"text":"IL6","fontSize":9,"offset":16},"width":57,"height":86,"data":{"values":[{"g":"PBS","v":15},{"g":"PIC","v":1650,"hi":1770}]},"encoding":{"x":{"field":"g","type":"nominal","title":null,"scale":{"domain":["PBS","PIC"],"paddingInner":0.3,"paddingOuter":0.15},"axis":{"labelFontWeight":"normal","labelFontSize":7,"domainWidth":1,"tickWidth":1}}},"layer":[{"mark":{"type":"bar","strokeWidth":1},"encoding":{"y":{"field":"v","type":"quantitative","scale":{"domain":[0,4000]},"axis":{"values":[0,1000,2000,3000,4000],"tickCount":10,"labelOverlap":false,"format":"d","title":"IL6 (pg/ml)","titleFontWeight":"normal","titleFontSize":8,"labelFontWeight":"normal","labelFontSize":7,"domainWidth":1,"tickWidth":1}},"fill":{"field":"g","type":"nominal","scale":{"domain":["PBS","PIC"],"range":["white","black"]},"legend":null}}},{"mark":{"type":"rule","strokeWidth":1},"encoding":{"y":{"field":"hi","type":"quantitative"},"y2":{"field":"v"}}},{"mark":{"type":"tick","thickness":1},"encoding":{"y":{"field":"hi","type":"quantitative"}}},{"data":{"values":[{}]},"mark":"rule","encoding":{"x":{"datum":"PBS"},"x2":{"datum":"PIC"},"y":{"datum":2330}}},{"data":{"values":[{}]},"mark":{"type":"text","dy":-5,"fontSize":8},"encoding":{"x":{"datum":"PBS","bandPosition":1},"y":{"datum":2330},"text":{"value":"**"}}}]},
  {"title":{"text":"TNFα","fontSize":9,"offset":16},"width":57,"height":86,"data":{"values":[{"g":"PBS","v":0},{"g":"PIC","v":820,"hi":1020}]},"encoding":{"x":{"field":"g","type":"nominal","title":null,"scale":{"domain":["PBS","PIC"],"paddingInner":0.3,"paddingOuter":0.15},"axis":{"labelFontWeight":"normal","labelFontSize":7,"domainWidth":1,"tickWidth":1}}},"layer":[{"mark":{"type":"bar","strokeWidth":1},"encoding":{"y":{"field":"v","type":"quantitative","scale":{"domain":[0,4000]},"axis":{"values":[0,1000,2000,3000,4000],"tickCount":10,"labelOverlap":false,"format":"d","title":"TNFα (pg/ml)","titleFontWeight":"normal","titleFontSize":8,"labelFontWeight":"normal","labelFontSize":7,"domainWidth":1,"tickWidth":1}},"fill":{"field":"g","type":"nominal","scale":{"domain":["PBS","PIC"],"range":["white","black"]},"legend":null}}},{"mark":{"type":"rule","strokeWidth":1},"encoding":{"y":{"field":"hi","type":"quantitative"},"y2":{"field":"v"}}},{"mark":{"type":"tick","thickness":1},"encoding":{"y":{"field":"hi","type":"quantitative"}}},{"data":{"values":[{}]},"mark":"rule","encoding":{"x":{"datum":"PBS"},"x2":{"datum":"PIC"},"y":{"datum":2210}}},{"data":{"values":[{}]},"mark":{"type":"text","dy":-5,"fontSize":8},"encoding":{"x":{"datum":"PBS","bandPosition":1},"y":{"datum":2210},"text":{"value":"*"}}}]}
 ]}
]}
]
}
